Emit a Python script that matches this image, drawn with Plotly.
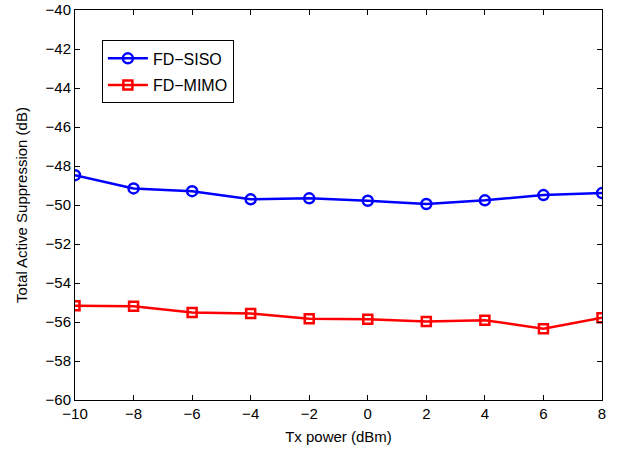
import plotly.graph_objects as go

tx_power = [-10, -8, -6, -4, -2, 0, 2, 4, 6, 8]
fd_siso = [-48.47, -49.15, -49.29, -49.71, -49.66, -49.78, -49.95, -49.76, -49.49, -49.39]
fd_mimo = [-55.17, -55.19, -55.51, -55.56, -55.83, -55.86, -55.98, -55.91, -56.34, -55.78]
x_ticks = [-10, -8, -6, -4, -2, 0, 2, 4, 6, 8]
y_ticks = [-60, -58, -56, -54, -52, -50, -48, -46, -44, -42, -40]

fig = go.Figure()
fig.add_trace(go.Scatter(x=tx_power, y=fd_siso, name="FD\u2212SISO", mode="lines+markers",
                         legendgroup="a",
                         line=dict(color="#0000ff", width=2.5),
                         marker=dict(symbol="circle-open", size=10, color="#0000ff", line=dict(width=2.5))))
fig.add_trace(go.Scatter(x=tx_power, y=fd_mimo, name="FD\u2212MIMO", mode="lines+markers",
                         legendgroup="b",
                         line=dict(color="#ff0000", width=2.5),
                         marker=dict(symbol="square-open", size=9, color="#ff0000", line=dict(width=2.5))))

axis_common = dict(showgrid=False, zeroline=False, showline=True, linecolor="black", linewidth=1,
                   mirror="ticks", ticks="inside", ticklen=5, tickcolor="black",
                   ticklabeloverflow="allow",
                   tickfont=dict(size=15, color="black"))
fig.update_xaxes(range=[-10, 8], tickvals=x_ticks, ticktext=[str(v).replace("-", "\u2212") for v in x_ticks],
                 title=dict(text="Tx power (dBm)", font=dict(size=15, color="black"), standoff=10), **axis_common)
fig.update_yaxes(range=[-60, -40], tickvals=y_ticks, ticktext=[str(v).replace("-", "\u2212") for v in y_ticks],
                 title=dict(text="Total Active Suppression (dB)", font=dict(size=15, color="black"), standoff=14),
                 **axis_common)

fig.update_layout(
    width=622, height=450,
    margin=dict(l=75, r=20, t=10, b=50, autoexpand=False),
    paper_bgcolor="white", plot_bgcolor="white",
    font=dict(family="Liberation Sans, Arial, sans-serif", size=15, color="black"),
    legend=dict(x=0.051, y=0.922, xanchor="left", yanchor="top",
                bordercolor="black", borderwidth=1, bgcolor="white",
                font=dict(size=16), tracegroupgap=3, itemwidth=40),
    showlegend=True,
)
fig.write_html("out.html", config={"displayModeBar": False},
               post_script="document.body.style.margin='0px';")
